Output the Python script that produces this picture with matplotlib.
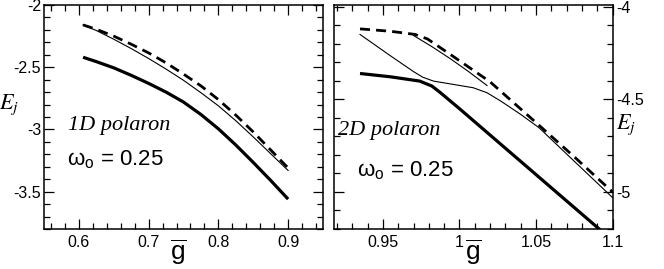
import matplotlib
matplotlib.use("Agg")
import matplotlib.pyplot as plt
from matplotlib.ticker import MultipleLocator

plt.rcParams['font.family'] = ['Liberation Sans', 'DejaVu Sans']
plt.rcParams['mathtext.fontset'] = 'custom'
plt.rcParams['mathtext.rm'] = 'Liberation Sans'
plt.rcParams['mathtext.it'] = 'Liberation Sans:italic'

# ---- 1D polaron (left panel) ----
g1 = [0.606, 0.625, 0.65, 0.675, 0.70, 0.725, 0.75, 0.775, 0.80, 0.825, 0.85, 0.875, 0.90]
e1_dash = [-2.16, -2.195, -2.25, -2.315, -2.385, -2.465, -2.555, -2.65, -2.76, -2.885, -3.02, -3.165, -3.31]
e1_thin = [-2.16, -2.205, -2.275, -2.35, -2.43, -2.515, -2.605, -2.705, -2.81, -2.93, -3.06, -3.195, -3.33]
e1_thick = [-2.42, -2.455, -2.505, -2.565, -2.63, -2.70, -2.78, -2.88, -2.995, -3.125, -3.265, -3.41, -3.56]

# ---- 2D polaron (right panel) ----
g2_dash = [0.935, 0.955, 0.971, 0.979, 0.994, 1.020, 1.050, 1.075, 1.100]
e2_dash = [-4.119, -4.132, -4.149, -4.173, -4.257, -4.405, -4.625, -4.81, -5.0]
g2_thinA = [0.935, 0.955, 0.970, 0.976, 0.983, 0.996, 1.009, 1.018, 1.027, 1.040, 1.052, 1.075, 1.100]
e2_thinA = [-4.149, -4.265, -4.35, -4.38, -4.401, -4.419, -4.437, -4.464, -4.509, -4.581, -4.653, -4.834, -5.03]
g2_thinB = [0.970, 0.982, 0.994, 1.006, 1.018]
e2_thinB = [-4.155, -4.215, -4.28, -4.35, -4.425]
g2_thick = [0.935, 0.955, 0.974, 0.982, 0.987, 1.000, 1.050, 1.092]
e2_thick = [-4.36, -4.378, -4.401, -4.428, -4.46, -4.55, -4.906, -5.205]

labels_panel = ["1D polaron", "2D polaron"]
omega_text = r"$\mathrm{\omega_o}$ = 0.25"

fig = plt.figure(figsize=(6.64, 2.69), dpi=100)
W, H = 664, 269
ax1 = fig.add_axes([44 / W, (H - 229) / H, 279 / W, 224 / H])
ax2 = fig.add_axes([334 / W, (H - 229) / H, 278.5 / W, 224 / H])

thick_kw = dict(color='black', lw=2.3, solid_capstyle='butt', solid_joinstyle='round')
thin_kw = dict(color='black', lw=0.8)
dash_kw = dict(color='black', lw=2.0, dashes=(3.6, 2.2))

ax1.plot(g1, e1_thin, **thin_kw)
ax1.plot(g1, e1_dash, **dash_kw)
ax1.plot(g1, e1_thick, **thick_kw)

ax2.plot(g2_thinA, e2_thinA, **thin_kw)
ax2.plot(g2_thinB, e2_thinB, **thin_kw)
ax2.plot(g2_dash, e2_dash, **dash_kw)
ax2.plot(g2_thick, e2_thick, **thick_kw)

ax1.set_xlim(0.55, 0.95)
ax1.set_ylim(-3.8, -2.0)
ax1.xaxis.set_minor_locator(MultipleLocator(0.02))
ax1.yaxis.set_minor_locator(MultipleLocator(0.1))
ax1.set_xticks([0.6, 0.7, 0.8, 0.9])
ax1.set_xticklabels(['0.6', '0.7', '0.8', '0.9'])
ax1.set_yticks([-3.5, -3.0, -2.5, -2.0])
ax1.set_yticklabels(['-3.5', '-3', '-2.5', '-2'])

ax2.set_xlim(0.918, 1.1)
ax2.set_ylim(-5.2, -3.99)
ax2.xaxis.set_minor_locator(MultipleLocator(0.01))
ax2.yaxis.set_minor_locator(MultipleLocator(0.1))
ax2.set_xticks([0.95, 1.0, 1.05, 1.1])
ax2.set_xticklabels(['0.95', '1', '1.05', '1.1'])
ax2.set_yticks([-5.0, -4.5, -4.0])
ax2.set_yticklabels(['-5', '-4.5', '-4'])

for ax in (ax1, ax2):
    for s in ax.spines.values():
        s.set_linewidth(1.1)
    ax.tick_params(which='both', direction='in', top=True, right=True,
                   left=True, bottom=True, width=0.9, labelsize=11.5)
    ax.tick_params(which='major', length=7.5)
    ax.tick_params(which='minor', length=4)
    ax.tick_params(axis='x', pad=4)

ax1.tick_params(axis='y', pad=2)
ax2.tick_params(axis='y', labelleft=False, labelright=True, pad=3)

# x labels: g with overline
fig.text(178 / W, 1 - 252 / H, r"$\overline{\mathrm{g}}$", fontsize=19,
         ha='center', va='center')
fig.text(473 / W, 1 - 252 / H, r"$\overline{\mathrm{g}}$", fontsize=19,
         ha='center', va='center')

# y labels
fig.text(9 / W, 1 - 105 / H, r"$E_j$", math_fontfamily='stix', fontsize=16,
         ha='center', va='center')
fig.text(626 / W, 1 - 125 / H, r"$E_j$", math_fontfamily='stix', fontsize=16,
         ha='center', va='center')

# annotations
ax1.text(0.086, 0.44, labels_panel[0], transform=ax1.transAxes,
         family='Liberation Serif', style='italic', fontsize=16)
ax1.text(0.082, 0.283, omega_text, transform=ax1.transAxes, fontsize=16)
ax2.text(0.015, 0.42, labels_panel[1], transform=ax2.transAxes,
         family='Liberation Serif', style='italic', fontsize=16)
ax2.text(0.083, 0.233, omega_text, transform=ax2.transAxes, fontsize=16)

fig.savefig("out.png", dpi=100)
